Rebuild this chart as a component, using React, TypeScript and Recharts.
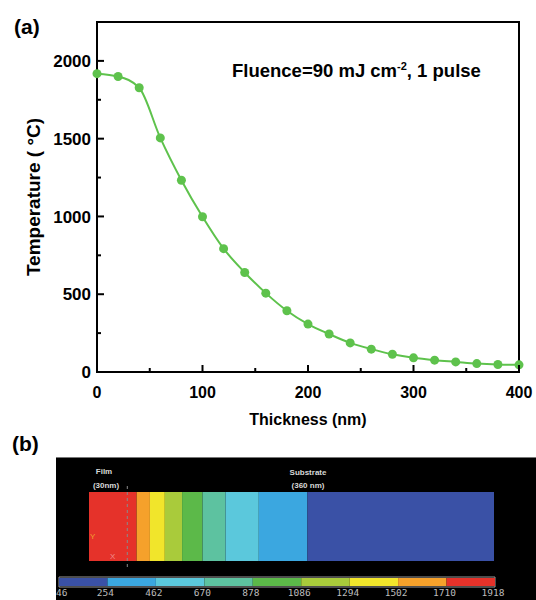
import React from 'react';
import {
  LineChart, Line, XAxis, YAxis, ReferenceArea, BarChart, Bar, ReferenceLine,
} from 'recharts';

// ---- Panel (a) data ----
const thickness = [0, 20, 40, 60, 80, 100, 120, 140, 160, 180, 200, 220, 240, 260, 280, 300, 320, 340, 360, 380, 400];
const temperature = [1918, 1900, 1827, 1505, 1233, 998, 793, 640, 507, 394, 308, 244, 187, 147, 114, 91, 76, 65, 54, 48, 46];
const xTicks = [0, 50, 100, 150, 200, 250, 300, 350, 400];
const yTicks = [0, 250, 500, 750, 1000, 1250, 1500, 1750, 2000];

// ---- Panel (b) data ----
// temperature bands across the sample, from surface (hot) to substrate (cold), widths in nm
const bandWidths = [37.3, 10.4, 11.7, 13.5, 16.0, 18.0, 26.1, 38.1, 146.1];
const bandColors = ['#e5322a', '#f5a12b', '#f1e52b', '#a9cb3b', '#5cb949', '#5dc2a0', '#5bc8dc', '#3ba7e0', '#3a51a6'];
const filmThickness = 30;
// color bar levels (°C)
const levels = [46, 254, 462, 670, 878, 1086, 1294, 1502, 1710, 1918];
const levelColors = ['#3a51a6', '#3ba7e0', '#5bc8dc', '#5dc2a0', '#5cb949', '#a9cb3b', '#f1e52b', '#f5a12b', '#e5322a'];

const lineData = thickness.map((t, i) => ({ t, T: temperature[i] }));

const bandRow: Record<string, number | string> = { name: 'bar' };
bandWidths.forEach((w, i) => { bandRow['b' + i] = w; });
const bandTotal = bandWidths.reduce((a, b) => a + b, 0);

const scaleRow: Record<string, number | string> = { name: 'scale', base: levels[0] };
levels.slice(1).forEach((v, i) => { scaleRow['s' + i] = v - levels[i]; });

const FONT = '"Liberation Sans", Arial, sans-serif';

const XTick = (props: any) => {
  const { x, y, payload } = props;
  const major = payload.value % 100 === 0;
  return (
    <g>
      <line x1={x} y1={y} x2={x} y2={y - (major ? 7 : 4)} stroke="#000" strokeWidth={2} />
      {major && (
        <text x={x} y={y + 26} textAnchor="middle" fontFamily={FONT} fontWeight="bold" fontSize={16} fill="#000">
          {payload.value}
        </text>
      )}
    </g>
  );
};

const YTick = (props: any) => {
  const { x, y, payload } = props;
  const major = payload.value % 500 === 0;
  return (
    <g>
      <line x1={x} y1={y} x2={x + (major ? 7 : 4)} y2={y} stroke="#000" strokeWidth={2} />
      {major && (
        <text x={x - 6} y={y} dy="0.36em" textAnchor="end" fontFamily={FONT} fontWeight="bold" fontSize={17} fill="#000">
          {payload.value}
        </text>
      )}
    </g>
  );
};

const ScaleTick = (props: any) => {
  const { x, y, payload, index } = props;
  const first = index === 0;
  return (
    <text x={first ? x - 3 : x - 2} y={y + 9} textAnchor={first ? 'start' : 'middle'} fontFamily='"DejaVu Sans Mono", monospace' fontSize={9.5} fill="#bdbdbd">
      {payload.value}
    </text>
  );
};

export default function App() {
  return (
    <div style={{ position: 'absolute', left: 0, top: 0, width: 536, height: 600, overflow: 'hidden', background: '#fff' }}>
      <div style={{ position: 'absolute', left: 0, top: 0 }}>
        <LineChart width={536} height={440} data={lineData} margin={{ top: 22, right: 17, bottom: 0, left: 0 }}>
          <XAxis
            dataKey="t" type="number" domain={[0, 400]} ticks={xTicks} interval={0}
            height={68} tickSize={0} tickMargin={0} tick={<XTick />}
            axisLine={{ stroke: '#000', strokeWidth: 2 }} tickLine={false}
          />
          <YAxis
            type="number" domain={[0, 2250]} ticks={yTicks} interval={0} allowDataOverflow
            width={97} tickSize={0} tickMargin={0} tick={<YTick />}
            axisLine={{ stroke: '#000', strokeWidth: 2 }} tickLine={false}
          />
          <ReferenceArea x1={0} x2={400} y1={0} y2={2250} fill="none" stroke="#000" strokeWidth={2} fillOpacity={0} />
          <Line
            type="monotone" dataKey="T" stroke="#5ec24c" strokeWidth={2}
            dot={{ r: 4.5, fill: '#5ec24c', stroke: '#5ec24c', strokeWidth: 0 }}
            isAnimationActive={false}
          />
        </LineChart>
      </div>

      <div style={{ position: 'absolute', left: 56, top: 457, width: 480, height: 143, background: '#000', borderTop: '1px solid #777' }}>
        <div style={{ position: 'absolute', left: 0, top: 0 }}>
          <BarChart width={480} height={143} layout="vertical" data={[bandRow]} margin={{ top: 28, right: 42, bottom: 34, left: 33 }}>
            <XAxis type="number" domain={[0, bandTotal]} hide allowDataOverflow />
            <YAxis type="category" dataKey="name" hide />
            {bandWidths.map((_, i) => (
              <Bar key={i} dataKey={'b' + i} stackId="a" fill={bandColors[i]} barSize={69} isAnimationActive={false} />
            ))}
            <ReferenceLine x={filmThickness} stroke="#8a8a8a" strokeDasharray="3 3" strokeWidth={1} />
          </BarChart>
        </div>
        <div style={{ position: 'absolute', left: 0, top: 112 }}>
          <BarChart width={480} height={30} layout="vertical" data={[scaleRow]} margin={{ top: 7, right: 41, bottom: 0, left: 3 }}>
            <XAxis
              type="number" domain={[levels[0], levels[levels.length - 1]]} ticks={levels} interval={0}
              allowDataOverflow height={13} axisLine={false} tickLine={false} tickSize={0} tickMargin={0}
              tick={<ScaleTick />}
            />
            <YAxis type="category" dataKey="name" hide />
            <Bar dataKey="base" stackId="s" fill="transparent" isAnimationActive={false} />
            {levelColors.map((c, i) => (
              <Bar key={i} dataKey={'s' + i} stackId="s" fill={c} isAnimationActive={false} />
            ))}
            <ReferenceArea x1={levels[0]} x2={levels[levels.length - 1]} fill="none" fillOpacity={0} stroke="#9a9a9a" strokeWidth={1} />
          </BarChart>
        </div>
      </div>

      <svg width={536} height={600} style={{ position: 'absolute', left: 0, top: 0, pointerEvents: 'none' }}>
        <text x={14} y={34} fontFamily={FONT} fontWeight="bold" fontSize={21} fill="#000">(a)</text>
        <text x={12} y={451} fontFamily={FONT} fontWeight="bold" fontSize={21} fill="#000">(b)</text>
        <text x={33} y={197} transform="rotate(-90 33 197)" textAnchor="middle" dy="0.36em" fontFamily={FONT} fontWeight="bold" fontSize={19} fill="#000">
          Temperature ( °C)
        </text>
        <text x={308} y={425} textAnchor="middle" fontFamily={FONT} fontWeight="bold" fontSize={16} fill="#000">Thickness (nm)</text>
        <text x={232} y={77} fontFamily={FONT} fontWeight="bold" fontSize={18.5} fill="#000">
          Fluence=90 mJ cm<tspan dy={-7} fontSize={11}>-2</tspan><tspan dy={7}>, 1 pulse</tspan>
        </text>
        <g fontFamily={FONT} fontWeight="bold" fontSize={8} fill="#d8d8d8" textAnchor="middle">
          <text x={104} y={474}>Film</text>
          <text x={106} y={488}>(30nm)</text>
          <text x={308} y={475}>Substrate</text>
          <text x={308} y={488}>(360 nm)</text>
        </g>
        <text x={90} y={539} fontFamily={FONT} fontSize={8} fill="#f0a030">Y</text>
        <text x={110} y={559} fontFamily={FONT} fontSize={8} fill="#f08a8a">X</text>
      </svg>
    </div>
  );
}
